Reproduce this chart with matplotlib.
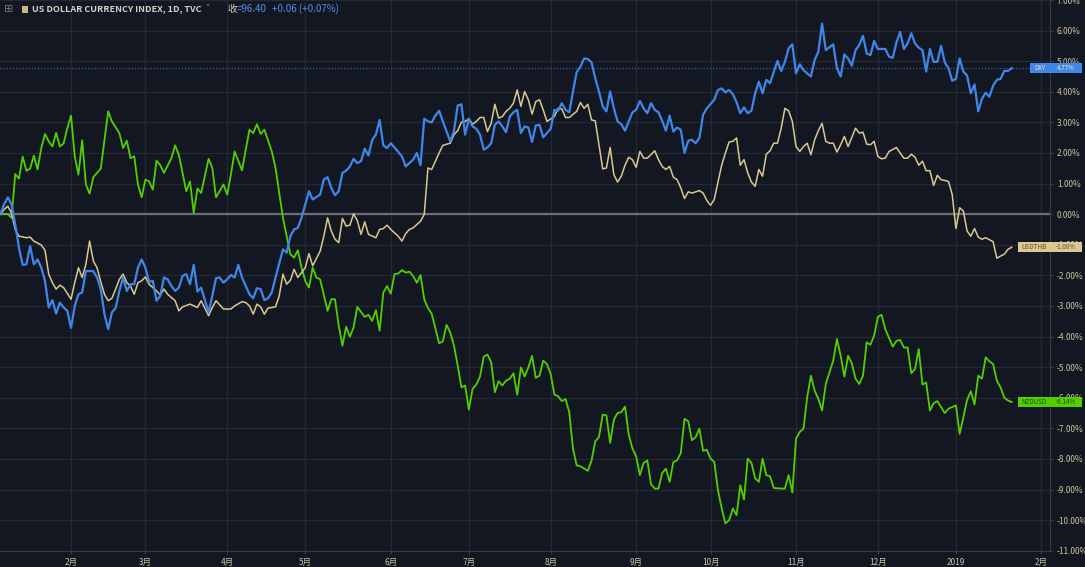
import matplotlib
matplotlib.use("Agg")
import matplotlib.pyplot as plt
import matplotlib.transforms as mtransforms
from matplotlib.patches import Rectangle
import pandas as pd

plt.rcParams['font.family'] = ['Noto Sans CJK SC', 'DejaVu Sans']

# trading-day index (0 = 2018-01-05) and % change
dxy_day = [0, 1, 2, 3, 4, 5, 6, 7, 8, 9, 10, 11, 12, 13, 14, 15, 16, 17, 18, 19, 20, 21, 22, 23,
           25, 26, 27, 28, 29, 30, 31, 32, 33, 34, 35, 36, 37, 38, 39, 40, 41, 42, 43, 44, 45, 46, 47, 48, 49, 50, 51, 52, 53, 54,
           56, 57, 58, 59, 60, 61, 62, 63, 64, 65, 66, 67, 68, 69, 70, 71, 72, 73, 74,
           76, 77, 78, 79, 80, 81, 82, 83, 84,
           86, 87, 88, 89, 90, 91, 92, 93, 94, 95, 96, 97, 98, 99, 100, 101, 102, 103, 104, 105, 106,
           *range(108, 191), *range(192, 223), *range(224, 273)]
dxy_pct = [0.00, 0.32, 0.55, 0.32, -0.34, -1.10, -1.66, -1.64, -1.04, -1.64, -1.48, -1.75, -2.18, -3.05, -2.81, -3.25,
           -2.89, -3.05, -3.16, -3.72, -3.00, -2.62, -2.56, -1.86,
           -1.86, -2.07, -2.45, -3.27, -3.76, -3.21, -3.07, -2.51, -2.07, -2.51, -2.29, -2.29, -1.75, -1.48, -1.75, -2.21,
           -2.18, -2.83, -2.67, -2.07, -2.13, -2.35, -2.51, -2.40, -2.02, -1.96, -2.29, -1.66, -2.53, -2.40,
           -3.21, -2.67, -2.09, -2.07, -2.24, -2.13, -1.99, -2.07, -1.66, -2.07, -2.35, -2.62, -2.75, -2.42, -2.45, -2.81,
           -2.75, -2.56, -2.07,
           -1.15, -1.26, -0.72, -0.50, -0.45, -0.12, 0.32, 0.75, 0.48,
           0.64, 1.13, 1.21, 0.86, 0.62, 0.75, 1.35, 1.42, 1.56, 1.81, 1.67, 1.73, 2.14, 1.92, 2.43, 2.60, 3.08, 2.25, 2.16,
           2.32, 2.18,
           1.89, 1.56, 1.67, 1.78, 2.00, 1.60, 3.12, 3.03, 3.00, 3.22, 3.38, 3.03, 2.70, 2.38, 2.73, 3.55, 3.59, 2.60, 3.12,
           2.87, 2.79, 2.60, 2.11, 2.18, 2.32, 2.92, 3.03, 2.87, 2.68, 3.19, 3.33, 3.41, 2.65, 2.87, 2.83, 2.36, 2.90, 2.92,
           2.51, 2.65, 2.79, 3.41, 3.38, 3.63, 3.41, 3.33, 4.01, 4.64, 4.82, 5.09, 5.07, 4.96, 4.44, 4.01, 3.52, 3.36, 4.01,
           3.46, 3.03, 2.94, 2.73, 3.03, 3.33, 3.41, 3.70, 3.46, 3.30, 3.63, 3.41, 3.33, 3.05, 2.73, 3.22, 2.70, 2.83, 2.76,
           2.00, 2.40, 2.43, 2.32, 2.49, 3.25, 3.46,
           3.74, 4.06, 4.11, 3.98, 4.06, 3.92, 3.66, 3.30, 3.49, 3.30, 3.38, 3.95, 4.33, 3.95, 4.39, 4.28, 4.64, 5.01, 4.68,
           4.98, 5.42, 5.55, 4.60, 4.90, 4.71, 4.60, 4.50, 5.04, 5.31, 6.23, 5.36,
           5.55, 4.77, 4.50, 5.22, 5.09, 4.85, 5.36, 5.53, 5.83, 5.25, 5.20, 5.66, 5.40, 5.40, 5.40, 5.15, 5.11, 5.61, 5.96,
           5.40, 5.58, 5.91, 5.58, 5.44, 5.36, 4.66, 5.40, 4.98, 4.98, 5.50, 4.96, 4.77, 4.36, 4.42, 5.09, 4.66, 4.53, 3.95,
           4.24, 3.36, 3.77, 3.97, 3.84, 4.20, 4.39, 4.42, 4.68, 4.68, 4.77]

thb_day = [0, 1, 2, 3, 4, 5, 7, 8, 9, 11, 12, 13, 14, 15, 16, 17, 19, 20, 21, 22, 23, 24, 25, 26, 27, 28, 29, 30,
           31, 32, 33, 34, 35, 36, 37, 38, 39, 40, 42, 43, 44, 45, 47, 48, 49, 51, 53, 54, 55, 56, 57, 58, 60, 62, 63,
           65, 66, 67, 68, 69, 70, 71, 72, 74, 75, 76, 77, 78, 79, 80, 82, 83, 84, 86, 87, 88, 89, 90, 91, 92, 93, 94,
           95, 96, 97, 98, 99, 101, 102, 103, 104, 105, 107, 108, 109, 110, 111, 113, 114, 115, 116, 117, 118, 119,
           *range(121, 148), *range(149, 154), *range(155, 175), *range(176, 187), *range(188, 240),
           *range(241, 266), *range(267, 273)]
thb_pct = [0.00, 0.15, 0.26, 0.04, -0.50, -0.72, -0.77, -0.75, -0.88, -1.01, -1.18, -1.96, -2.24, -2.45, -2.32, -2.40,
           -2.78, -2.24, -1.75, -2.07, -1.64, -0.88, -1.53, -1.75, -2.21, -2.62, -2.83, -2.75,
           -2.45, -2.13, -1.96, -2.24, -2.35, -2.62, -2.24, -2.18, -2.05, -2.29, -2.51, -2.64, -2.45, -2.62, -2.83, -3.16,
           -3.03, -2.94, -3.05, -2.83, -3.07, -3.32, -3.05, -2.83, -3.10, -3.10, -3.00,
           -2.86, -2.89, -3.00, -3.27, -2.94, -3.03, -3.27, -3.07, -3.03, -2.67, -1.96, -2.29, -2.16, -1.80, -2.07, -1.75,
           -1.29, -1.69, -1.21, -0.72, -0.12, -0.55, -0.82, -0.93, -0.14, -0.39, -0.36,
           0.01, -0.21, -0.66, -0.25, -0.66, -0.77, -0.50, -0.47, -0.36, -0.50, -0.72, -0.88, -0.64, -0.50, -0.45, -0.23,
           -0.01, 1.51, 1.46, 1.73, 2.00, 2.25,
           2.32, 2.60, 2.73, 3.01, 3.03, 3.12, 2.94, 3.03, 3.16, 3.16, 2.70, 2.97, 3.59, 3.14, 3.19, 3.36, 3.46, 3.63, 4.06,
           3.52, 4.01, 3.74, 3.27, 3.68, 3.74, 3.41, 3.03,
           3.19, 3.46, 3.44, 3.16, 3.16,
           3.36, 3.65, 3.46, 3.59, 3.08, 3.05, 2.27, 1.48, 1.51, 2.18, 1.29, 1.05, 1.24, 1.60, 1.86, 1.78, 1.53, 2.05, 1.83,
           1.83,
           2.07, 1.78, 1.56, 1.46, 1.56, 1.21, 1.13, 0.86, 0.51, 0.73, 0.69,
           0.77, 0.69, 0.45, 0.29, 0.48, 1.05, 1.60, 2.00, 2.36, 2.38, 2.49, 1.60, 1.78, 1.35, 1.05, 0.91, 1.46, 1.24, 1.96,
           2.07, 2.32, 2.32, 2.81, 3.46, 3.38, 3.03, 2.21, 2.05, 2.21, 2.32, 1.94, 2.43, 2.73, 2.97, 2.38, 2.32, 2.32, 2.03,
           2.27, 2.54, 2.21, 2.51, 2.81, 2.65, 2.68, 2.29, 2.27, 2.38, 1.89, 1.81, 1.83, 2.05,
           2.18, 2.00, 1.83, 1.83, 1.96, 1.86, 1.60, 1.73, 1.42, 1.42, 0.94, 1.27, 1.13, 1.10, 1.07, 0.64, -0.47, 0.21, 0.10,
           -0.55, -0.72, -0.47, -0.75, -0.82, -0.77,
           -0.90, -1.44, -1.37, -1.31, -1.15, -1.08]

nzd_day = [0, 2, 3, 4, 5, 6, 7, 8, 9, 10, 11, 12, 13, 14, 15, 16, 17, 18, 19, 20, 21, 22, 23, 24, 25, 27, 29, 30,
           32, 33, 34, 35, 36, 37, 38, 39, 40, 41, 42, 43, 44, 46, 47, 48, 50, 51, 52, 53, 54, 56, 57, 58, 60, 61, 62,
           63, 65, 66, 67, 68, 69, 70, 71, 73, 74, 76, 78, 79, 80, 81, 82, 83, 84, 85, 86, 88, 89, 90, 91, 92, 93, 94,
           95, 96, 98, 99, 100, 101, 102, 103, 104, 105, 106, 107, 108, 109, 110, 111, 112, 113, 114, 115, 116,
           *range(118, 157), *range(158, 209), *range(210, 239), *range(240, 253), 254, 255, *range(257, 273)]
nzd_pct = [0.00, 0.00, -0.12, 1.31, 1.16, 1.88, 1.42, 1.49, 1.91, 1.46, 2.16, 2.62, 2.38, 2.21, 2.66, 2.21, 2.31, 2.81,
           3.22, 1.89, 1.29, 2.42, 0.97, 0.67, 1.21, 1.49, 3.36, 3.03,
           2.65, 2.16, 2.40, 1.83, 1.89, 0.97, 0.55, 1.13, 1.07, 0.80, 1.75, 1.60, 1.35, 1.83, 2.25, 1.94, 0.75, 1.07, 0.04,
           0.84, 0.69, 1.81, 1.51, 0.55, 0.97, 0.64, 1.29,
           2.05, 1.43, 2.11, 2.76, 2.65, 2.94, 2.62, 2.76, 2.05, 1.51, -0.12, -1.31, -1.42, -1.18, -1.75, -2.18, -2.40,
           -1.75, -2.07, -2.13, -3.16, -2.78, -2.78, -3.65, -4.30, -3.68, -4.01,
           -3.70, -3.03, -3.36, -3.29, -3.49, -3.14, -3.81, -2.56, -2.35, -2.60, -1.96, -1.94, -1.83, -1.91, -1.88, -2.02,
           -2.24, -1.99, -2.78, -3.07, -3.25,
           -4.22, -4.16, -3.62, -3.87, -4.30, -4.95, -5.66, -5.60, -6.39, -5.71, -5.57, -5.31, -4.66, -4.59, -4.84, -5.82,
           -5.46, -5.60, -5.44, -5.38, -5.20, -5.90, -5.01, -5.31, -5.01, -4.63, -5.35, -5.28, -4.79, -4.90, -5.22, -5.90,
           -5.95, -6.11, -6.04, -6.47, -7.66, -8.21, -8.24,
           -8.39, -8.05, -7.42, -7.29, -6.55, -6.58, -7.48, -6.72, -6.50, -6.47, -6.29, -7.20, -7.66, -7.92, -8.53, -8.13,
           -8.05, -8.83, -8.97, -8.97, -8.46, -8.32, -8.75, -8.10, -8.05, -7.81, -6.69, -6.77, -7.39, -7.29, -7.01, -7.74,
           -7.70, -7.99, -8.10, -9.02, -9.62, -10.11, -10.00, -9.62, -9.84, -8.86, -9.33, -7.99, -8.13, -8.64, -8.75,
           -7.99, -8.53, -8.57, -8.95,
           -8.97, -8.97, -8.53, -9.10, -7.34, -7.12, -7.01, -5.98, -5.28, -5.77, -6.04, -6.42, -5.55, -5.17, -4.79, -4.08,
           -4.63, -5.31, -4.63, -4.88, -5.38, -5.55, -5.28, -4.19, -4.27, -3.97, -3.36, -3.29, -3.76,
           -4.33, -4.14, -4.11, -4.36, -4.36, -5.20, -5.06, -4.41, -5.57, -5.50, -6.42, -6.18, -6.11,
           -6.50, -6.36,
           -6.25, -7.18, -6.64, -6.07, -5.79, -6.22, -5.28, -5.38, -4.68, -4.81, -4.90, -5.44, -5.66, -6.00, -6.09, -6.14]

month_labels = ['2月', '3月', '4月', '5月', '6月', '7月', '8月', '9月', '10月', '11月', '12月', '2019', '2月']
series_names = ['DXY', 'USDTHB', 'NZDUSD']

BG = '#131722'
GRID = '#242834'
TXT = '#cfc39b'
BLUE = '#3f86e8'
TAN = '#dac890'
GREEN = '#52cf00'

days = pd.bdate_range('2018-01-05', '2019-02-28')
month_pos = [i for i in range(1, len(days)) if days[i].month != days[i - 1].month]

fig = plt.figure(figsize=(10.85, 5.67), dpi=100, facecolor=BG)
ax = fig.add_axes([0, 16 / 567, 1050 / 1085, 551 / 567], facecolor=BG)
ax.set_xlim(-0.1, 282.3)
ax.set_ylim(-11.01, 6.94)

yticks = list(range(-11, 8))
ax.set_yticks(yticks)
ax.set_yticklabels([f"{v:.2f}%" for v in yticks])
ax.yaxis.tick_right()
ax.set_xticks(month_pos)
ax.set_xticklabels(month_labels)
ax.tick_params(colors='#3a3e4a', labelcolor=TXT, labelsize=6, length=2.5, width=0.8, pad=2.5)
ax.grid(True, color=GRID, lw=0.9)
ax.set_axisbelow(True)
for side in ['top', 'left']:
    ax.spines[side].set_visible(False)
for side in ['right', 'bottom']:
    ax.spines[side].set_color('#363a45')

ax.axhline(0, color='#6b6d72', lw=1.6, zorder=1)
ax.axhline(dxy_pct[-1], color='#35609e', lw=0.9, ls=(0, (1, 1.5)), zorder=1)

ax.plot(nzd_day, nzd_pct, color=GREEN, lw=1.3, zorder=3)
ax.plot(thb_day, thb_pct, color=TAN, lw=1.1, zorder=3)
ax.plot(dxy_day, dxy_pct, color=BLUE, lw=1.6, zorder=4)

# price labels on the right axis (they cover the tick labels underneath)
trans = mtransforms.blended_transform_factory(ax.transAxes, ax.transData)
label_specs = [(series_names[0], dxy_pct[-1], BLUE, '#f0e6c0', 1030),
               (series_names[1], thb_pct[-1], TAN, '#5a5035', 1018),
               (series_names[2], nzd_pct[-1], GREEN, '#1d4a00', 1018)]
for name, val, fc, tc, x0 in label_specs:
    left = x0 / 1050
    right = 1082 / 1050
    h = 0.33
    ax.add_patch(Rectangle((left, val - h / 2), right - left, h, transform=trans,
                           facecolor=fc, edgecolor='none', clip_on=False, zorder=6))
    ax.text((left + 1) / 2, val, name, transform=trans, ha='center', va='center',
            fontsize=4.5, color=tc, clip_on=False, zorder=7)
    ax.text((1 + right) / 2, val, f"{val:.2f}%", transform=trans, ha='center', va='center',
            fontsize=4.5, color=tc, clip_on=False, zorder=7)

# header line
def fx(px):
    return px / 1085

def fy(py):
    return 1 - py / 567

fig.text(fx(4), fy(9), '⊞', fontsize=8, color='#6f7380', va='center', family='DejaVu Sans')
fig.patches.append(Rectangle((fx(22), fy(13)), fx(6), 7 / 567, transform=fig.transFigure,
                             facecolor='#c9b98a', edgecolor='none'))
fig.text(fx(32), fy(9), 'US DOLLAR CURRENCY INDEX, 1D, TVC', fontsize=6.5, color='#d3d0c8',
         va='center', weight='bold')
fig.text(fx(205), fy(9), '˅', fontsize=6, color='#9a9a9a', va='center', family='DejaVu Sans')
fig.text(fx(227), fy(9), '收', fontsize=7, color='#d3cfae', va='center')
fig.text(fx(237), fy(9), '=96.40', fontsize=7, color='#4c8fe8', va='center')
fig.text(fx(272), fy(9), '+0.06 (+0.07%)', fontsize=7, color='#4c8fe8', va='center')

fig.savefig('out.png', dpi=100, facecolor=BG)
